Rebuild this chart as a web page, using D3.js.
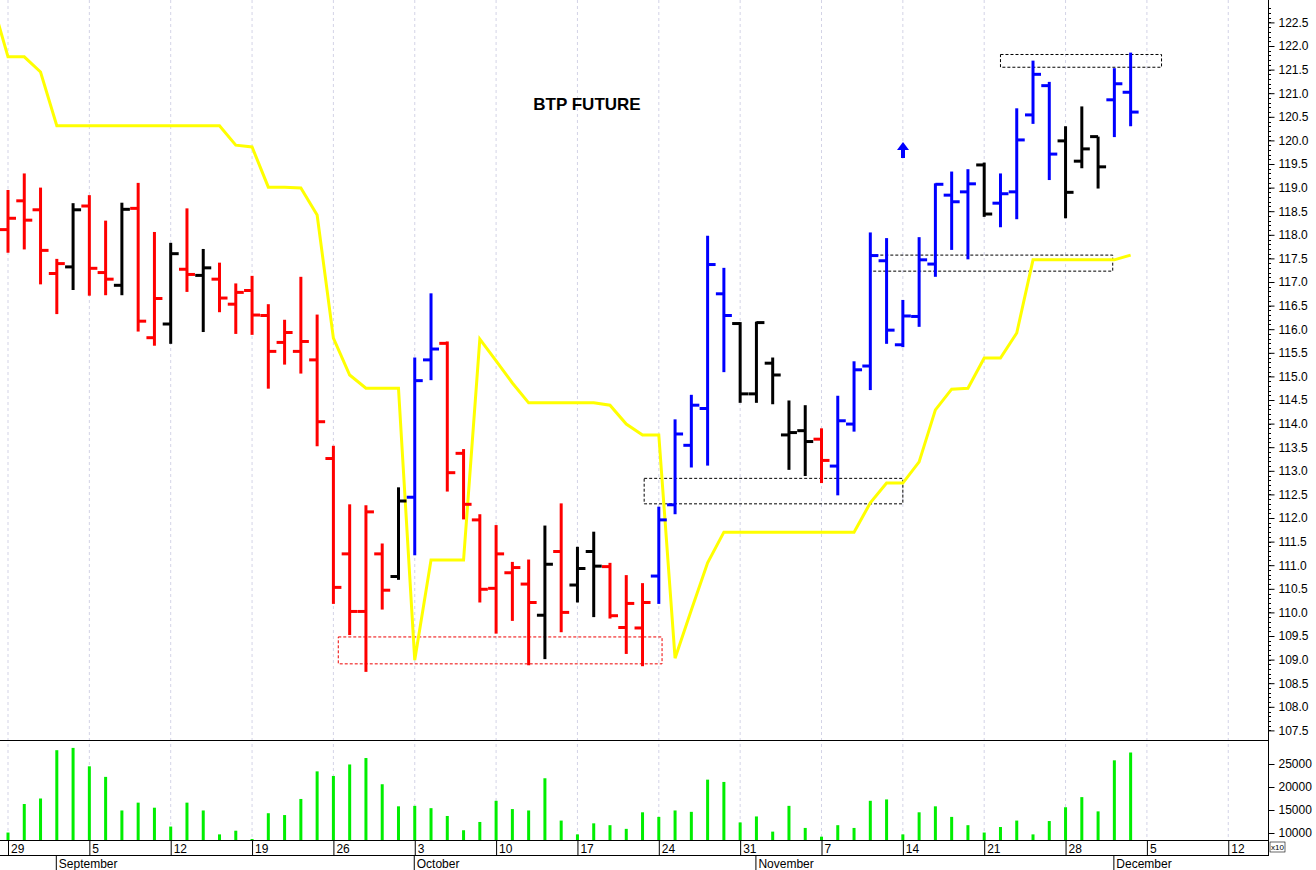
<!DOCTYPE html>
<html>
<head>
<meta charset="utf-8">
<script src="https://cdn.jsdelivr.net/npm/d3@7"></script>
<style>
body { margin: 0; background: #fff; }
text { font-family: Arial, "Liberation Sans", sans-serif; }
</style>
</head>
<body>
<script>
// OHLC values, one per trading day from 29 Aug
var opens = [118.11,118.72,118.53,117.18,117.32,118.61,117.20,116.93,118.56,115.82,
  116.11,117.27,117.14,117.06,116.53,116.82,116.29,115.72,115.53,115.35,
  113.26,111.24,110.02,111.24,110.76,112.44,115.35,115.70,113.37,111.96,
  110.51,110.84,110.60,109.94,111.29,110.58,111.29,110.97,109.68,109.67,
  110.77,112.28,113.54,114.32,116.75,116.12,114.63,115.28,113.76,113.85,
  113.67,113.10,113.99,115.22,117.45,115.67,116.27,117.38,118.84,118.91,
  119.48,118.67,118.91,120.54,121.16,119.99,119.56,120.08,120.86,121.02];
var highs = [118.95,119.30,119.00,117.49,118.67,118.84,118.30,118.68,119.10,118.06,
  117.83,118.56,117.70,117.41,116.97,117.13,116.53,116.20,117.11,116.31,
  113.53,112.29,112.27,111.46,112.65,115.40,116.76,115.74,113.46,112.08,
  111.85,111.07,111.12,111.84,112.31,111.39,111.71,111.05,110.79,110.62,
  112.24,114.09,114.61,117.98,117.30,116.15,116.16,115.40,114.49,114.39,
  113.90,114.59,115.32,118.05,117.93,116.62,117.95,119.09,119.34,119.39,
  119.53,119.30,120.68,121.69,121.24,120.30,120.72,120.08,121.53,121.86];
var lows = [117.62,117.69,116.95,116.32,116.83,116.71,116.72,116.72,115.95,115.65,
  115.69,116.79,115.94,116.36,115.90,115.88,114.74,115.25,115.06,113.52,
  110.18,109.52,108.74,110.06,110.69,111.21,114.92,112.56,111.97,110.21,
  109.55,109.82,108.88,109.01,109.58,110.21,109.90,109.87,109.12,108.86,
  110.18,112.08,113.07,113.11,115.09,114.44,114.44,114.41,113.02,112.89,
  112.74,112.48,113.83,114.71,115.69,115.62,116.05,117.11,117.68,117.48,
  118.38,118.16,118.33,120.35,119.16,118.35,119.41,118.98,120.07,120.30];
var closes = [118.35,118.31,117.67,117.39,118.53,117.29,117.06,118.54,116.17,116.65,
  117.60,117.16,117.30,116.66,116.78,116.30,115.53,115.93,115.74,114.04,
  110.53,110.02,112.13,110.47,112.36,114.91,115.58,112.96,112.29,110.49,
  111.24,110.95,110.21,111.02,110.00,110.93,110.98,109.93,110.19,110.21,
  111.96,113.78,114.39,117.37,116.29,114.63,116.14,115.03,113.81,113.62,
  113.22,114.06,115.14,117.56,115.98,116.28,117.47,119.07,118.70,119.08,
  118.44,118.87,120.01,121.40,119.71,118.90,119.82,119.44,121.20,120.60];
// r = red, k = black, b = blue
var barColors = ("rrrrkrrkrrkrkrrrrrrr" + "rrrrkbbrrrrrrkrkkrrr" + "bbbbbkkkkkrbbbbbbbbb" + "kbbbbkkkbb").split("");
var volumes = [10100,16300,17500,28000,28500,24500,22200,14900,16600,15500,
  11400,16600,14900,9700,10500,8700,14300,13900,17400,23400,
  22400,24900,26300,20600,15800,15900,15400,13700,10600,12400,
  17000,15200,14900,21900,12700,9700,12100,11700,10900,14500,
  13500,14900,14600,21600,21100,12300,13600,10300,15900,11100,
  9200,11700,11100,17000,17300,9700,14500,15800,13500,11700,
  10100,11300,12700,9700,12600,15600,17800,14700,25800,27500];
// yellow line, starts one day before 29 Aug
var yellow = [122.97,121.77,121.77,121.45,120.31,120.31,120.31,120.31,120.31,120.31,
  120.31,120.31,120.31,120.31,120.31,119.90,119.86,119.01,119.01,118.99,
  118.42,115.81,115.03,114.75,114.75,114.75,108.99,111.11,111.11,111.11,
  115.79,115.33,114.86,114.44,114.44,114.44,114.44,114.44,114.39,113.99,
  113.76,113.76,109.03,110.05,111.05,111.70,111.70,111.70,111.70,111.70,
  111.70,111.70,111.70,111.70,112.32,112.74,112.74,113.19,114.29,114.73,
  114.75,115.39,115.39,115.92,117.47,117.47,117.47,117.47,117.47,117.47,117.57];
var weekLabels = ["29","5","12","19","26","3","10","17","24","31","7","14","21","28","5","12"];
var monthLabels = ["September","October","November","December"];
var monthStart = [3, 25, 46, 68];
var priceTicks = d3.range(107.5, 122.51, 0.5);
var volTicks = [10000, 15000, 20000, 25000];
// dashed support / resistance boxes: [from day, to day, low, high]
var boxes = [[20.3, 40.2, 108.91, 109.48, "#e00"], [39.1, 55, 112.30, 112.84, "#000"],
  [53, 67.9, 117.23, 117.57, "#000"], [61, 70.9, 121.55, 121.82, "#000"]];

var W = 1316, H = 870, plotR = 1268;
var svg = d3.select("body").append("svg").attr("width", W).attr("height", H);

var x = d3.scaleLinear().domain([0, 1]).range([8, 24.27]);
var y = d3.scaleLinear().domain([107.5, 122]).range([730.4, 46]);
var yv = d3.scaleLinear().domain([10000, 25000]).range([833, 764]);

// weekly grid
var weekIdx = d3.range(weekLabels.length).map(function (k) { return k * 5; });
svg.selectAll("line.grid").data(weekIdx).enter().append("line")
  .attr("x1", function (d) { return x(d); }).attr("x2", function (d) { return x(d); })
  .attr("y1", 0).attr("y2", 840)
  .attr("stroke", "#c8c8e0").attr("stroke-width", 0.8).attr("stroke-dasharray", "3,3");

// boxes
svg.selectAll("rect.box").data(boxes).enter().append("rect")
  .attr("x", function (d) { return x(d[0]); })
  .attr("width", function (d) { return x(d[1]) - x(d[0]); })
  .attr("y", function (d) { return y(d[3]); })
  .attr("height", function (d) { return y(d[2]) - y(d[3]); })
  .attr("fill", "none").attr("stroke", function (d) { return d[4]; })
  .attr("stroke-width", 1).attr("stroke-dasharray", "3,2");

// yellow line
var line = d3.line().x(function (d, i) { return x(i - 1); }).y(function (d) { return y(d); });
svg.append("path").datum(yellow).attr("d", line)
  .attr("fill", "none").attr("stroke", "#ffff00").attr("stroke-width", 3);

// OHLC bars
var colorMap = { r: "#ff0000", k: "#000000", b: "#0000ff" };
var bars = svg.selectAll("g.bar").data(opens).enter().append("g")
  .attr("stroke", function (d, i) { return colorMap[barColors[i]]; })
  .attr("stroke-width", 3);
bars.append("line")
  .attr("x1", function (d, i) { return x(i); }).attr("x2", function (d, i) { return x(i); })
  .attr("y1", function (d, i) { return y(highs[i]); }).attr("y2", function (d, i) { return y(lows[i]); });
bars.append("line")
  .attr("x1", function (d, i) { return x(i) - 8; }).attr("x2", function (d, i) { return x(i); })
  .attr("y1", function (d) { return y(d); }).attr("y2", function (d) { return y(d); });
bars.append("line")
  .attr("x1", function (d, i) { return x(i); }).attr("x2", function (d, i) { return x(i) + 8; })
  .attr("y1", function (d, i) { return y(closes[i]); }).attr("y2", function (d, i) { return y(closes[i]); });

// blue arrow
svg.append("path").attr("d", "M903,142 L897,150 L901,150 L901,158 L905,158 L905,150 L909,150 Z")
  .attr("fill", "#0000ff");

svg.append("text").attr("x", 587).attr("y", 110).attr("text-anchor", "middle")
  .attr("font-size", 17).attr("font-weight", "bold").text("BTP FUTURE");

// volume bars
svg.selectAll("rect.vol").data(volumes).enter().append("rect")
  .attr("x", function (d, i) { return x(i) - 1.5; }).attr("width", 3)
  .attr("y", function (d) { return yv(d); })
  .attr("height", function (d) { return 840 - yv(d); })
  .attr("fill", "#00ee00");

// frames
svg.append("line").attr("x1", 0).attr("x2", plotR).attr("y1", 740.5).attr("y2", 740.5).attr("stroke", "#000");
svg.append("line").attr("x1", 0).attr("x2", plotR).attr("y1", 840.5).attr("y2", 840.5).attr("stroke", "#000");
svg.append("line").attr("x1", 0).attr("x2", plotR).attr("y1", 855.5).attr("y2", 855.5).attr("stroke", "#000");
svg.append("line").attr("x1", plotR + 0.5).attr("x2", plotR + 0.5).attr("y1", 0).attr("y2", 856).attr("stroke", "#000");

// right price axis
var yAxis = d3.axisRight(y).tickValues(priceTicks).tickSize(6)
  .tickFormat(d3.format(".1f"));
var ga = svg.append("g").attr("transform", "translate(" + (plotR + 0.5) + ",0)").call(yAxis);
ga.select(".domain").remove();
ga.selectAll("text").attr("font-size", 12).attr("x", 10).attr("font-family", "Arial");
svg.selectAll("line.minor").data(d3.range(107.5, 122.81, 0.1)).enter().append("line")
  .attr("x1", plotR).attr("x2", plotR + 3)
  .attr("y1", function (d) { return Math.round(y(d)) + 0.5; })
  .attr("y2", function (d) { return Math.round(y(d)) + 0.5; })
  .attr("stroke", "#000");

// volume axis
var gv = svg.append("g").attr("transform", "translate(" + (plotR + 0.5) + ",0)")
  .call(d3.axisRight(yv).tickValues(volTicks).tickSize(6));
gv.select(".domain").remove();
gv.selectAll("text").attr("font-size", 12).attr("x", 10).attr("font-family", "Arial")
  .text(function (d) { return d; });
svg.append("rect").attr("x", 1270).attr("y", 842).attr("width", 15).attr("height", 10)
  .attr("fill", "#fff").attr("stroke", "#000").attr("stroke-width", 0.6);
svg.append("text").attr("x", 1271).attr("y", 850).attr("font-size", 8).text("x10");

// date axis
svg.selectAll("line.wk").data(weekIdx).enter().append("line")
  .attr("x1", function (d) { return x(d) + 0.5; }).attr("x2", function (d) { return x(d) + 0.5; })
  .attr("y1", 840).attr("y2", 855).attr("stroke", "#000");
svg.selectAll("text.wk").data(weekLabels).enter().append("text")
  .attr("x", function (d, k) { return x(k * 5) + 3; }).attr("y", 853)
  .attr("font-size", 12).text(function (d) { return d; });
svg.selectAll("line.mo").data(monthStart).enter().append("line")
  .attr("x1", function (d) { return x(d) - 0.5; }).attr("x2", function (d) { return x(d) - 0.5; })
  .attr("y1", 855).attr("y2", 870).attr("stroke", "#000");
svg.selectAll("text.mo").data(monthLabels).enter().append("text")
  .attr("x", function (d, k) { return x(monthStart[k]) + 2; }).attr("y", 868)
  .attr("font-size", 12).text(function (d) { return d; });
</script>
</body>
</html>
